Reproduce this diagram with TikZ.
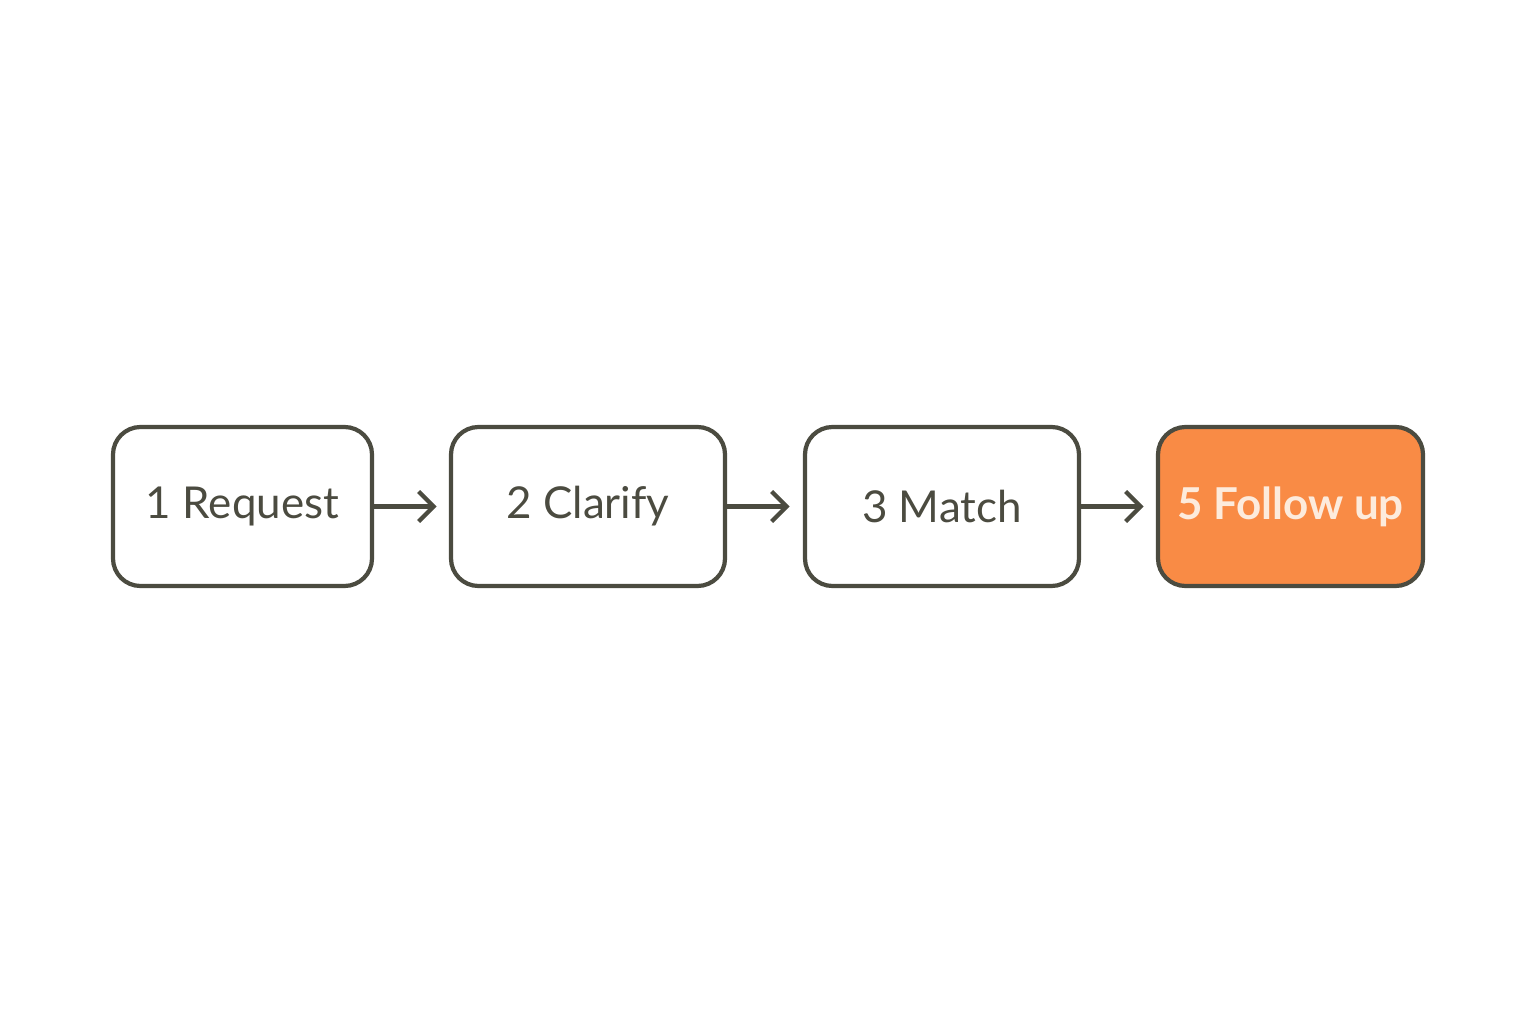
\documentclass[tikz,border=0pt]{standalone}
\usepackage{fontspec}
\setmainfont{Lato}
\usetikzlibrary{arrows.meta}
\definecolor{edge}{HTML}{4B4B40}
\definecolor{accent}{HTML}{F98B45}
\definecolor{cream}{HTML}{FDEBDC}
\begin{document}
\begin{tikzpicture}
\useasboundingbox (0,0) rectangle (30.72,20.48);
\tikzset{
 stepbox/.style={draw=edge, line width=2.4pt, rounded corners=0.55cm, minimum height=3.18cm, text=edge, font=\fontsize{25}{30}\selectfont},
 conn/.style={draw=edge, line width=2.4pt, -{Straight Barb[length=0.3cm,width=0.6cm,line width=2.4pt]}}
}
\node[stepbox, minimum width=5.18cm] (a) at (4.85,10.35) {1 Request};
\node[stepbox, minimum width=5.48cm] (b) at (11.76,10.35) {2 Clarify};
\node[stepbox, minimum width=5.48cm] (c) at (18.84,10.35) {3 Match};
\node[stepbox, minimum width=5.30cm, fill=accent, text=cream, font=\fontsize{25}{30}\selectfont\bfseries] (d) at (25.81,10.35) {5 Follow up};
\draw[conn] (a.east) -- ++(1.25,0);
\draw[conn] (b.east) -- ++(1.25,0);
\draw[conn] (c.east) -- ++(1.25,0);
\end{tikzpicture}
\end{document}
